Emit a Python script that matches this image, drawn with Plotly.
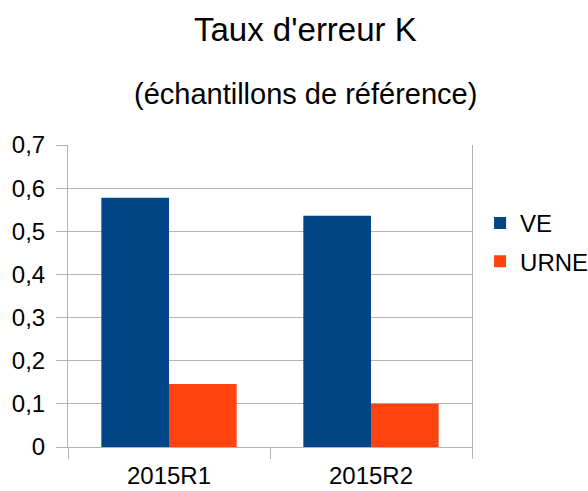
import plotly.graph_objects as go

categories = ["2015R1", "2015R2"]
ve_values = [0.578, 0.536]
urne_values = [0.146, 0.100]
series_names = ["VE", "URNE"]
series_colors = ["#004586", "#ff420e"]
y_ticks = [0, 0.1, 0.2, 0.3, 0.4, 0.5, 0.6, 0.7]

FONT = "Liberation Sans, Arial, sans-serif"
GRID = "#b3b3b3"

fig = go.Figure()
for i, (name, vals, col) in enumerate(zip(series_names, [ve_values, urne_values], series_colors)):
    fig.add_trace(go.Bar(name=name, x=categories, y=vals, legendgroup=f"g{i}",
                         marker=dict(color=col, line=dict(width=0))))

fig.update_layout(
    width=588, height=491,
    margin=dict(l=68, r=116, t=145, b=44, autoexpand=False),
    paper_bgcolor="white", plot_bgcolor="white",
    separators=", ",
    font=dict(family=FONT, size=24, color="black"),
    barmode="group", bargap=0.33, bargroupgap=0,
    showlegend=True,
    legend=dict(x=1.02, xanchor="left", y=0.815, yanchor="top",
                font=dict(size=24, color="black"), itemclick=False,
                traceorder="grouped", tracegroupgap=4,
                bgcolor="rgba(0,0,0,0)", borderwidth=0),
    annotations=[
        dict(text="Taux d'erreur K", xref="paper", yref="paper", x=0.587, y=1.381,
             xanchor="center", yanchor="middle", showarrow=False,
             font=dict(family=FONT, size=33, color="black")),
        dict(text="(échantillons de référence)", xref="paper", yref="paper", x=0.587, y=1.17,
             xanchor="center", yanchor="middle", showarrow=False,
             font=dict(family=FONT, size=29, color="black")),
    ],
)

fig.update_xaxes(
    showgrid=False, showline=True, linecolor=GRID, linewidth=1,
    ticks="outside", tickson="boundaries", ticklen=11, tickcolor=GRID, tickwidth=1,
    ticklabelstandoff=7,
    tickfont=dict(size=24, color="black"), mirror=False,
)
fig.update_yaxes(
    range=[0, 0.7], tickvals=y_ticks, showgrid=True, gridcolor=GRID, gridwidth=1,
    showline=True, linecolor=GRID, linewidth=1, mirror=True,
    ticks="outside", ticklen=11, tickcolor=GRID, tickwidth=1,
    ticklabelstandoff=6, zeroline=False,
    tickfont=dict(size=24, color="black"),
)

fig.write_html("out.html", config={"displayModeBar": False},
               post_script="document.body.style.margin='0';document.body.style.padding='0';")
